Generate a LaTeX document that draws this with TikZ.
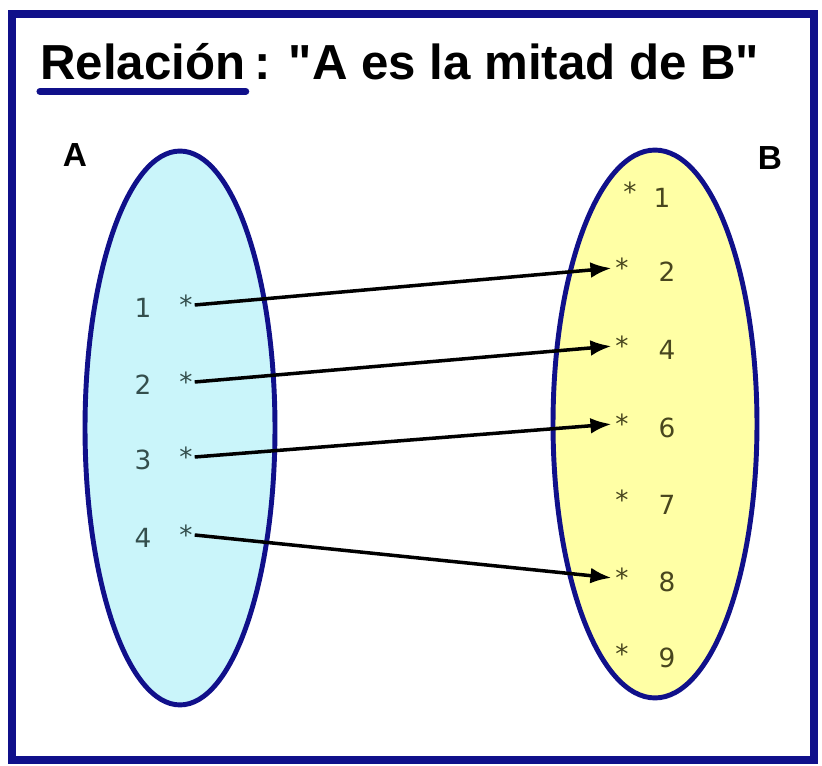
\documentclass[tikz,border=0pt]{standalone}
\usepackage{fontspec}
\setmainfont{Liberation Sans}
\newfontfamily\digitfont{DejaVu Sans}
\usetikzlibrary{arrows.meta,shapes.geometric}
\definecolor{framenavy}{RGB}{16,16,138}
\definecolor{setcyan}{RGB}{202,245,250}
\definecolor{setyellow}{RGB}{255,255,165}
\definecolor{leftdigit}{RGB}{52,78,76}
\definecolor{rightdigit}{RGB}{72,70,30}
\tikzset{
  frame/.style={draw=framenavy,line width=4pt},
  setbox/.style={ellipse,draw=framenavy,line width=2.8pt,inner sep=0pt},
  setA/.style={setbox,fill=setcyan,minimum width=3.8cm,minimum height=11.08cm},
  setB/.style={setbox,fill=setyellow,minimum width=4.08cm,minimum height=10.96cm},
  title/.style={font=\bfseries\fontsize{28}{32}\selectfont,inner sep=0pt},
  setname/.style={font=\bfseries\fontsize{19}{22}\selectfont},
  eltA/.style={font=\digitfont\fontsize{15}{17}\selectfont,text=leftdigit},
  eltB/.style={font=\digitfont\fontsize{15}{17}\selectfont,text=rightdigit},
  starA/.style={eltA,inner sep=1pt},
  starB/.style={eltB,inner sep=1pt},
  maps/.style={-{Latex[length=12pt,width=9pt]},line width=2pt,shorten >=1pt},
}
\begin{document}
\begin{tikzpicture}[x=0.02cm,y=-0.02cm]
  \path[use as bounding box,fill=white] (0,0) rectangle (822,766);
  \draw[frame] (12,14) rectangle (814,760);

  \node[title,anchor=base west] (rel) at (40,80) {Relación};
  \node[title,anchor=base west] (quote) at (rel.base east)
    {\,: \textquotedbl A es la mitad de B\textquotedbl};
  \draw[framenavy,line width=4pt,line cap=round]
    ([yshift=-6.5pt]rel.base west) -- ([yshift=-6.5pt]rel.base east);

  \node[setname] (nameA) at (75,155) {A};
  \node[setname] (nameB) at (770,158) {B};

  \node[setA] (setA) at (180,428) {};
  \node[setB] (setB) at (655,424) {};

  % elements of A
  \node[eltA] (a1) at (143,308) {1};
  \node[eltA] (a2) at (143,385) {2};
  \node[eltA] (a3) at (143,460) {3};
  \node[eltA] (a4) at (143,538) {4};
  \node[starA] (sa1) at (186,305) {*};
  \node[starA] (sa2) at (186,382) {*};
  \node[starA] (sa3) at (186,457) {*};
  \node[starA] (sa4) at (186,535) {*};

  % elements of B
  \node[eltB] (b1) at (662,198) {1};
  \node[eltB] (b2) at (667,272) {2};
  \node[eltB] (b4) at (667,350) {4};
  \node[eltB] (b6) at (667,428) {6};
  \node[eltB] (b7) at (667,505) {7};
  \node[eltB] (b8) at (667,582) {8};
  \node[eltB] (b9) at (667,658) {9};
  \node[starB] (sb1) at (630,192) {*};
  \node[starB] (sb2) at (622,268) {*};
  \node[starB] (sb4) at (622,346) {*};
  \node[starB] (sb6) at (622,424) {*};
  \node[starB] (sb7) at (622,500) {*};
  \node[starB] (sb8) at (622,578) {*};
  \node[starB] (sb9) at (622,654) {*};

  \draw[maps] (sa1.east) -- (sb2.west);
  \draw[maps] (sa2.east) -- (sb4.west);
  \draw[maps] (sa3.east) -- (sb6.west);
  \draw[maps] (sa4.east) -- (sb8.west);
\end{tikzpicture}
\end{document}
